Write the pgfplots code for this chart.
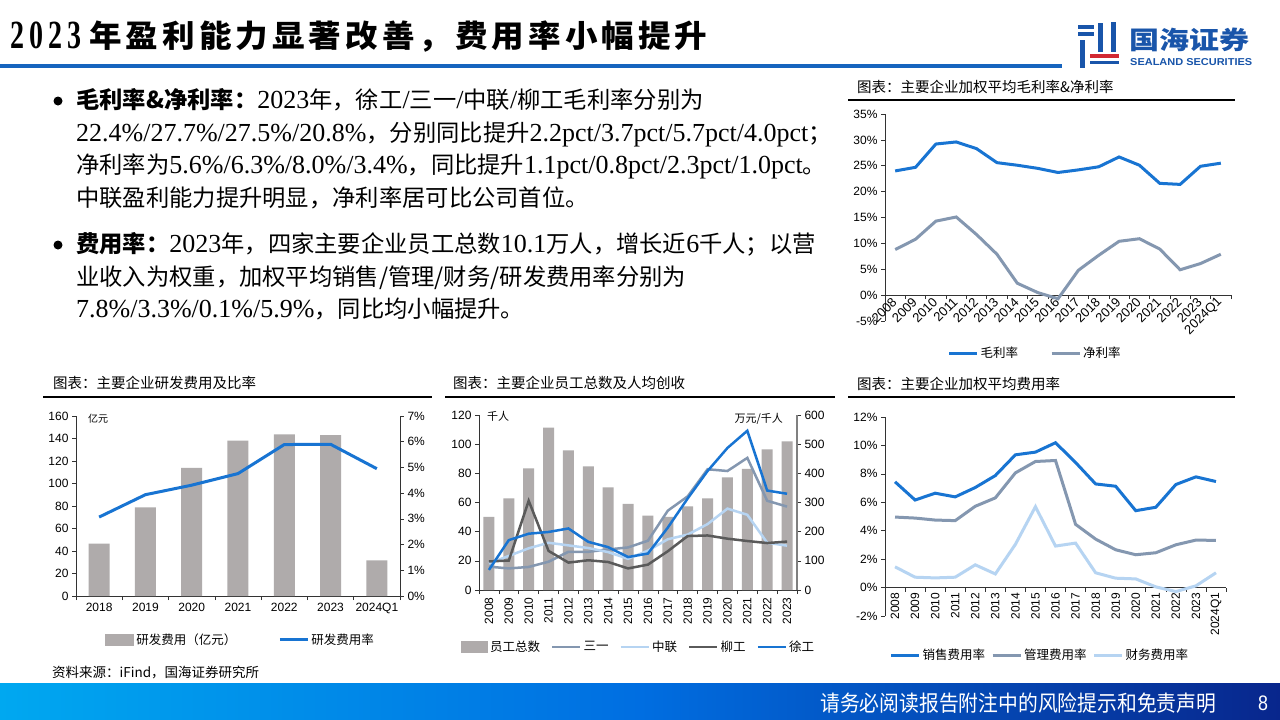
\documentclass[border=0pt]{standalone}
\usepackage{fontspec}
\usepackage{pgfplots}
\pgfplotsset{compat=1.18}
\setmainfont{Noto Sans CJK SC}
\newfontfamily\cjk{Noto Sans CJK SC}
\newfontfamily\tnr{Liberation Serif}
\newfontfamily\arial{Liberation Sans}
\definecolor{cblue}{RGB}{24,116,210}
\definecolor{cgray}{RGB}{132,151,176}
\definecolor{clight}{RGB}{182,212,242}
\definecolor{cdark}{RGB}{90,90,90}
\definecolor{barg}{RGB}{175,171,171}
\definecolor{hblue}{RGB}{22,100,190}
\definecolor{logob}{RGB}{25,85,170}
\definecolor{logor}{RGB}{210,40,50}
\definecolor{fl}{RGB}{0,168,240}
\definecolor{fm}{RGB}{0,110,225}
\definecolor{fr}{RGB}{8,38,140}
\newcommand\tickf{\arial\fontsize{12}{14}\selectfont}
\newcommand\legf{\cjk\fontsize{12.5}{14}\selectfont}
\newcommand\ttlf{\cjk\fontsize{14.5}{16}\selectfont}
\newcommand\bodyf{\cjk\fontsize{23.3}{26}\selectfont}
\newcommand\Lt[1]{{\tnr\fontsize{26}{26}\selectfont #1}}
\pgfplotsset{
  mybase/.style={scale only axis, anchor=south west, clip=false,
    tick align=outside, major tick length=4pt,
    tick style={black!80, line width=0.6pt},
    axis line style={black!80, line width=0.8pt},
    ticklabel style={font=\tickf},
    /pgf/number format/assume math mode=true,
    legend style={draw=none, fill=none, legend columns=-1, font=\legf, anchor=center},
    legend image code/.code={\draw[##1, line width=3pt] (0pt,0pt) -- (28pt,0pt);},
  },
}
\begin{document}
\begin{tikzpicture}
\useasboundingbox (0,0) rectangle (1280pt,-720pt);
\fill[white] (0,0) rectangle (1280pt,-720pt);
% ---------- header ----------
\foreach \d [count=\i from 0] in {2,0,2,3}
  \node[anchor=base west, inner sep=0] at ({10pt+\i*19pt},-48pt) {\scalebox{0.7}[1]{\tnr\bfseries\fontsize{40}{40}\selectfont\d}};
\foreach \c [count=\i from 0] in {年,盈,利,能,力,显,著,改,善,，,费,用,率,小,幅,提,升}
  \node[anchor=base west, inner sep=0] at ({89pt+\i*36.6pt},-47.5pt) {\scalebox{1.05}[1]{\cjk\bfseries\fontsize{31}{31}\selectfont\c}};
\fill[hblue] (0,-64pt) rectangle (1062pt,-68pt);
% logo
\fill[logob] (1078pt,-25pt) rectangle (1094pt,-29pt);
\fill[logob] (1078pt,-32pt) rectangle (1094pt,-36pt);
\fill[logob] (1080pt,-40pt) rectangle (1085pt,-68pt);
\fill[logob] (1098pt,-23pt) rectangle (1103pt,-52pt);
\fill[logob] (1111pt,-22pt) rectangle (1116pt,-52pt);
\fill[logor] (1090pt,-54pt) rectangle (1119pt,-58pt);
\fill[logob] (1090pt,-61pt) rectangle (1119pt,-64pt);
\node[anchor=west, inner sep=0, text=logob] at (1129pt,-40pt) {\scalebox{1.2}[1]{\cjk\bfseries\fontsize{25}{25}\selectfont 国海证券}};
\node[anchor=west, inner sep=0, text=logob] at (1130pt,-62pt) {\resizebox{122pt}{7pt}{\arial\bfseries SEALAND SECURITIES}};
% ---------- body text ----------
\fill[black] (58pt,-101pt) circle (4.5pt);
\fill[black] (58pt,-245pt) circle (4.5pt);
\begin{scope}[every node/.style={anchor=base west, inner sep=0, text=black}]
\node at (76pt,-108.5pt) {\bodyf{\bfseries 毛利率\&净利率：}\Lt{2023}年，徐工\Lt{/}三一\Lt{/}中联\Lt{/}柳工毛利率分别为};
\node at (76pt,-141pt) {\bodyf\Lt{22.4\%/27.7\%/27.5\%/20.8\%}，分别同比提升\Lt{2.2pct/3.7pct/5.7pct/4.0pct}；};
\node at (76pt,-173.5pt) {\bodyf 净利率为\Lt{5.6\%/6.3\%/8.0\%/3.4\%}，同比提升\Lt{1.1pct/0.8pct/2.3pct/1.0pct}。};
\node at (76pt,-206pt) {\bodyf 中联盈利能力提升明显，净利率居可比公司首位。};
\node at (76pt,-252.5pt) {\bodyf{\bfseries 费用率：}\Lt{2023}年，四家主要企业员工总数\Lt{10.1}万人，增长近\Lt{6}千人；以营};
\node at (76pt,-285pt) {\bodyf 业收入为权重，加权平均销售/管理/财务/研发费用率分别为};
\node at (76pt,-317.5pt) {\bodyf\Lt{7.8\%/3.3\%/0.1\%/5.9\%}，同比均小幅提升。};
\end{scope}
% ---------- chart titles ----------
\node[anchor=west, inner sep=0] at (857pt,-87pt) {\ttlf 图表：主要企业加权平均毛利率\&净利率};
\draw[black, line width=1.5pt] (848pt,-100pt) -- (1235pt,-100pt);
\node[anchor=west, inner sep=0] at (53pt,-383pt) {\ttlf 图表：主要企业研发费用及比率};
\draw[black, line width=1.5pt] (43pt,-397pt) -- (432pt,-397pt);
\node[anchor=west, inner sep=0] at (453pt,-383pt) {\ttlf 图表：主要企业员工总数及人均创收};
\draw[black, line width=1.5pt] (445pt,-397pt) -- (835pt,-397pt);
\node[anchor=west, inner sep=0] at (857pt,-384pt) {\ttlf 图表：主要企业加权平均费用率};
\draw[black, line width=1.5pt] (848pt,-397pt) -- (1235pt,-397pt);
% ---------- chart 1 ----------
\begin{axis}[mybase, at={(885pt,-321pt)}, width=346pt, height=207pt,
  xmin=-0.5, xmax=16.5, ymin=-5, ymax=35,
  axis x line*=middle, axis y line*=left,
  hide obscured x ticks=false, hide obscured y ticks=false,
  xtick={-0.5,0.5,...,16.5}, x tick label as interval,
  xticklabels={2008,2009,2010,2011,2012,2013,2014,2015,2016,2017,2018,2019,2020,2021,2022,2023,2024Q1},
  xticklabel style={rotate=45, anchor=east, inner sep=1pt, font=\arial\fontsize{13}{14}\selectfont},
  ytick={-5,0,...,35}, yticklabel={\pgfmathprintnumber{\tick}\%},
  legend style={at={(0.434,-0.155)}, /tikz/every even column/.append style={column sep=30pt}},
]
\addplot[cblue, line width=3pt] coordinates {(0,24.0)(1,24.7)(2,29.2)(3,29.6)(4,28.3)(5,25.6)(6,25.1)(7,24.5)(8,23.7)(9,24.2)(10,24.8)(11,26.7)(12,25.1)(13,21.6)(14,21.4)(15,24.9)(16,25.5)};
\addlegendentry{毛利率}
\addplot[cgray, line width=3pt] coordinates {(0,8.8)(1,10.8)(2,14.3)(3,15.1)(4,11.7)(5,7.9)(6,2.3)(7,0.5)(8,-0.7)(9,4.8)(10,7.7)(11,10.4)(12,10.9)(13,8.9)(14,4.9)(15,6.1)(16,7.9)};
\addlegendentry{净利率}
\end{axis}
% ---------- chart 2 ----------
\begin{axis}[mybase, at={(76pt,-596pt)}, width=324pt, height=180pt,
  xmin=-0.5, xmax=6.5, ymin=0, ymax=160,
  axis x line*=bottom, axis y line*=left,
  xtick={-0.5,0.5,...,6.5}, x tick label as interval,
  xticklabels={2018,2019,2020,2021,2022,2023,2024Q1},
  ytick={0,20,...,160},
  legend style={at={(0.508,-0.244)}, /tikz/every even column/.append style={column sep=40pt}},
]
\addplot[ybar, bar width=21pt, fill=barg, draw=none, legend image code/.code={\fill[barg] (0pt,-6pt) rectangle (29pt,6pt);}] coordinates {(0,46.5)(1,78.8)(2,113.8)(3,138.1)(4,143.7)(5,143.1)(6,31.7)};
\addlegendentry{研发费用（亿元）}
\addlegendimage{cblue, line width=3pt}
\addlegendentry{研发费用率}
\node[anchor=west, inner sep=0] at (rel axis cs:0.037,0.985) {\cjk\fontsize{10}{10}\selectfont 亿元};
\end{axis}
\begin{axis}[mybase, at={(76pt,-596pt)}, width=324pt, height=180pt,
  xmin=-0.5, xmax=6.5, ymin=0, ymax=7,
  axis y line*=right, axis x line=none,
  ytick={0,1,...,7}, yticklabel={\pgfmathprintnumber{\tick}\%},
]
\addplot[cblue, line width=3pt] coordinates {(0,3.07)(1,3.94)(2,4.31)(3,4.76)(4,5.89)(5,5.90)(6,4.95)};
\end{axis}
% ---------- chart 3 ----------
\begin{axis}[mybase, at={(479pt,-590pt)}, width=318pt, height=175pt,
  xmin=-0.5, xmax=15.5, ymin=0, ymax=120,
  axis x line*=bottom, axis y line*=left,
  xtick={-0.5,0.5,...,15.5}, x tick label as interval,
  xticklabels={2008,2009,2010,2011,2012,2013,2014,2015,2016,2017,2018,2019,2020,2021,2022,2023},
  xticklabel style={rotate=90, anchor=east},
  ytick={0,20,...,120},
  legend style={at={(0.5016,-0.326)}, /tikz/every even column/.append style={column sep=9pt}},
  legend image code/.code={\draw[#1, line width=2.5pt] (0pt,0pt) -- (28pt,0pt);},
]
\addplot[ybar, bar width=11pt, fill=barg, draw=none, legend image code/.code={\fill[barg] (0pt,-6pt) rectangle (27pt,6pt);}] coordinates {(0,50.1)(1,62.9)(2,83.4)(3,111.3)(4,95.8)(5,84.8)(6,70.4)(7,59.0)(8,51.0)(9,50.1)(10,57.4)(11,62.9)(12,77.3)(13,83.0)(14,96.5)(15,101.9)};
\addlegendentry{员工总数}
\addlegendimage{cgray}\addlegendentry{三一}
\addlegendimage{clight}\addlegendentry{中联}
\addlegendimage{cdark}\addlegendentry{柳工}
\addlegendimage{cblue}\addlegendentry{徐工}
\node[anchor=west, inner sep=0] at (rel axis cs:0.025,0.995) {\cjk\fontsize{11}{11}\selectfont 千人};
\node[anchor=east, inner sep=0] at (rel axis cs:0.956,0.98) {\cjk\fontsize{11}{11}\selectfont 万元/千人};
\end{axis}
\begin{axis}[mybase, at={(479pt,-590pt)}, width=318pt, height=175pt,
  xmin=-0.5, xmax=15.5, ymin=0, ymax=600,
  axis y line*=right, axis x line=none,
  y axis line style={black!50, line width=2.5pt},
  ytick={0,100,...,600},
]
\addplot[cgray, line width=2.5pt] coordinates {(0,80)(1,74)(2,79)(3,97)(4,131)(5,131)(6,139)(7,146)(8,169)(9,272)(10,321)(11,414)(12,408)(13,453)(14,306)(15,286)};
\addplot[clight, line width=2.5pt] coordinates {(0,91)(1,117)(2,143)(3,162)(4,153)(5,144)(6,130)(7,107)(8,135)(9,174)(10,190)(11,226)(12,279)(13,258)(14,162)(15,152)};
\addplot[cdark, line width=2.5pt] coordinates {(0,98)(1,101)(2,306)(3,134)(4,94)(5,102)(6,96)(7,74)(8,87)(9,133)(10,185)(11,187)(12,176)(13,168)(14,161)(15,166)};
\addplot[cblue, line width=2.5pt] coordinates {(0,69)(1,171)(2,193)(3,199)(4,211)(5,165)(6,147)(7,113)(8,125)(9,214)(10,314)(11,408)(12,487)(13,546)(14,341)(15,330)};
\end{axis}
% ---------- chart 4 ----------
\begin{axis}[mybase, at={(885pt,-616pt)}, width=341pt, height=199pt,
  xmin=-0.5, xmax=16.5, ymin=-2, ymax=12,
  axis x line*=middle, axis y line*=left,
  hide obscured x ticks=false, hide obscured y ticks=false,
  xtick={-0.5,0.5,...,16.5}, x tick label as interval,
  xticklabels={2008,2009,2010,2011,2012,2013,2014,2015,2016,2017,2018,2019,2020,2021,2022,2023,2024Q1},
  xticklabel style={rotate=90, anchor=east, inner sep=1pt},
  ytick={-2,0,...,12}, yticklabel={\pgfmathprintnumber{\tick}\%},
  legend style={at={(0.4545,-0.196)}, /tikz/every even column/.append style={column sep=4pt}},
]
\addplot[cblue, line width=3pt] coordinates {(0,7.44)(1,6.16)(2,6.64)(3,6.38)(4,7.04)(5,7.88)(6,9.34)(7,9.53)(8,10.19)(9,8.80)(10,7.29)(11,7.13)(12,5.41)(13,5.65)(14,7.25)(15,7.79)(16,7.46)};
\addlegendentry{销售费用率}
\addplot[cgray, line width=3pt] coordinates {(0,4.96)(1,4.89)(2,4.75)(3,4.71)(4,5.72)(5,6.31)(6,8.07)(7,8.87)(8,8.94)(9,4.45)(10,3.41)(11,2.66)(12,2.31)(13,2.45)(14,3.01)(15,3.34)(16,3.32)};
\addlegendentry{管理费用率}
\addplot[clight, line width=3pt] coordinates {(0,1.46)(1,0.73)(2,0.68)(3,0.73)(4,1.60)(5,0.96)(6,3.04)(7,5.69)(8,2.92)(9,3.13)(10,1.04)(11,0.66)(12,0.61)(13,0.05)(14,-0.28)(15,0.12)(16,1.04)};
\addlegendentry{财务费用率}
\end{axis}
% ---------- footer ----------
\node[anchor=west, inner sep=0] at (52pt,-672pt) {\cjk\fontsize{13.5}{14}\selectfont 资料来源：iFind，国海证券研究所};
\shade[left color=fl, right color=fr, middle color=fm] (0,-683pt) rectangle (1280pt,-720pt);
\node[anchor=west, inner sep=0, text=white] at (820pt,-703pt) {\scalebox{0.9}[1]{\cjk\fontsize{22}{22}\selectfont 请务必阅读报告附注中的风险提示和免责声明}};
\node[anchor=west, inner sep=0, text=white] at (1258pt,-703pt) {\scalebox{0.85}[1]{\arial\fontsize{21}{21}\selectfont 8}};
\end{tikzpicture}
\end{document}
